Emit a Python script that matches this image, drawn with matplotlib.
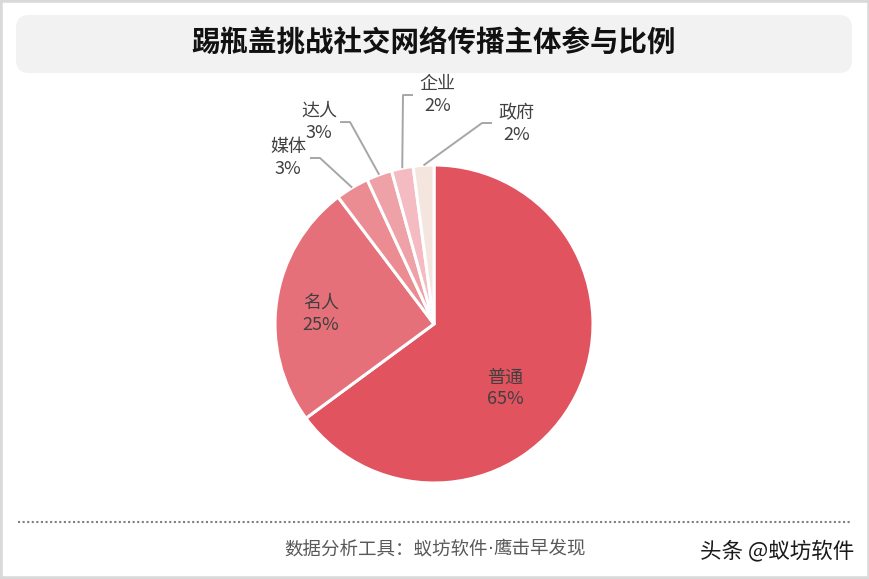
import matplotlib
matplotlib.use("Agg")
import matplotlib.pyplot as plt
from matplotlib.patches import FancyBboxPatch, Rectangle
import numpy as np

plt.rcParams['font.family'] = ['Noto Sans CJK SC', 'DejaVu Sans']

# ---- data ----
categories = ['普通', '名人', '媒体', '达人', '企业', '政府']
values = [64.9, 24.8, 3.4, 2.6, 2.2, 2.1]
colors = ['#E0535F', '#E6707A', '#EB8B92', '#EEA1A7', '#F4BCC2', '#F4E5DF']
title = '踢瓶盖挑战社交网络传播主体参与比例'
footer_parts = ['数据分析工具：蚁坊软件', '·', '鹰击早发现']
watermark = '头条 @蚁坊软件'

# ---- layout (pixels) ----
W, H = 870, 579
cx, cy, R = 434, 324, 159

fig = plt.figure(figsize=(W / 100, H / 100), dpi=100)
fig.patch.set_facecolor('white')

def fx(x):
    return x / W

def fy(y):
    return 1 - y / H

# outer border
fig.patches.append(Rectangle((0, 0), 1, 1, transform=fig.transFigure,
                             facecolor='none', edgecolor='#D9D9D9', linewidth=4))
# title box
fig.patches.append(FancyBboxPatch((fx(16), fy(73)), fx(852) - fx(16), fy(15) - fy(73),
                                  boxstyle='round,pad=0,rounding_size=0.015',
                                  transform=fig.transFigure, facecolor='#F2F2F2',
                                  edgecolor='none', mutation_aspect=W / H))
fig.text(fx(434), fy(44), title, ha='center', va='center', fontsize=20.5,
         fontweight='bold', color='#111111')

# dotted separator
fig.add_artist(plt.Line2D([fx(18), fx(852)], [fy(521.5), fy(521.5)],
                          transform=fig.transFigure, color='#7F7F7F',
                          linewidth=1.5, linestyle=(0, (1, 1.2))))

# footer built from pieces so the middle dot stays narrow
renderer = fig.canvas.get_renderer()
fams = [['Noto Sans CJK SC'], ['DejaVu Sans'], ['Noto Sans CJK SC']]
pieces = [fig.text(0, fy(549), p, ha='left', va='center', fontsize=13.3,
                   color='#595959', family=f) for p, f in zip(footer_parts, fams)]
widths = [t.get_window_extent(renderer).width for t in pieces]
x0 = 435 - sum(widths) / 2
for t, wdt in zip(pieces, widths):
    t.set_x(fx(x0))
    x0 += wdt

fig.text(fx(854), fy(551), watermark, ha='right', va='center', fontsize=15.5,
         color='#1A1A1A')

# pie
ax = fig.add_axes([(cx - R) / W, 1 - (cy + R) / H, 2 * R / W, 2 * R / H])
wedges, _ = ax.pie(values, colors=colors, startangle=90, counterclock=False,
                   radius=1, wedgeprops=dict(edgecolor='white', linewidth=2.2))
ax.set_xlim(-1, 1)
ax.set_ylim(-1, 1)
ax.set_aspect('auto')
ax.axis('off')

txt_color = '#404040'
labels = [f'{c}\n{int(v + 0.5):d}%' for c, v in zip(categories, values)]

# inside labels (data units)
inside_pos = {0: (0.447, -0.405), 1: (-0.711, 0.063)}
for i, (x, y) in inside_pos.items():
    ax.text(x, y, labels[i], ha='center', va='center', fontsize=13,
            color=txt_color, linespacing=1.3)

# outside labels with leader lines: elbow, end of horizontal, text anchor
outside = {
    2: dict(elbow=(-0.717, 1.044), end=-0.780, text=(-0.805, 1.044), ha='right'),
    3: dict(elbow=(-0.528, 1.270), end=-0.591, text=(-0.610, 1.270), ha='right'),
    4: dict(elbow=(-0.195, 1.440), end=-0.132, text=(-0.090, 1.440), ha='left'),
    5: dict(elbow=(0.302, 1.264), end=0.365, text=(0.405, 1.258), ha='left'),
}
for i, o in outside.items():
    w = wedges[i]
    mid = np.deg2rad((w.theta1 + w.theta2) / 2)
    sx, sy = np.cos(mid), np.sin(mid)
    ex, ey = o['elbow']
    ax.plot([sx, ex, o['end']], [sy, ey, ey], color='#A6A6A6', linewidth=1.4,
            clip_on=False, solid_capstyle='butt')
    ax.text(o['text'][0], o['text'][1], labels[i], ha=o['ha'], va='center',
            multialignment='center', fontsize=13, color=txt_color,
            linespacing=1.3, clip_on=False)

fig.savefig('out.png', dpi=100)
